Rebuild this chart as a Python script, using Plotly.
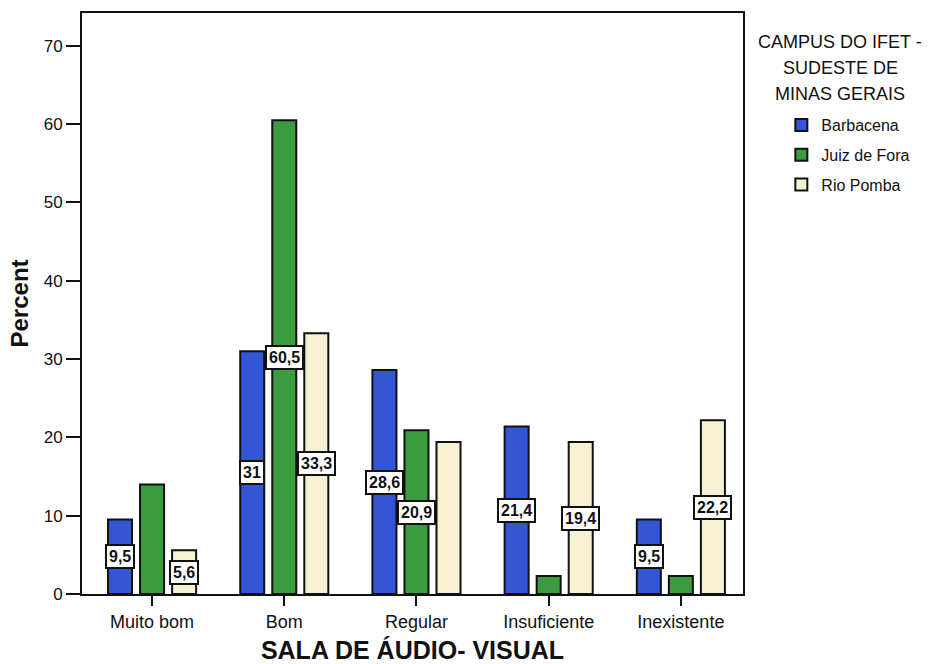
import plotly.graph_objects as go

# Avaliação da sala de áudio-visual por campus (percentual)
categories = ["Muito bom", "Bom", "Regular", "Insuficiente", "Inexistente"]
campuses = ["Barbacena", "Juiz de Fora", "Rio Pomba"]
barbacena = [9.5, 31.0, 28.6, 21.4, 9.5]
juiz_de_fora = [14.0, 60.5, 20.9, 2.3, 2.3]
rio_pomba = [5.6, 33.3, 19.4, 19.4, 22.2]
# rótulos exibidos sobre as barras (None = sem rótulo)
labels_barbacena = ["9,5", "31", "28,6", "21,4", "9,5"]
labels_juiz = [None, "60,5", "20,9", None, None]
labels_rio = ["5,6", "33,3", None, "19,4", "22,2"]
y_ticks = [0, 10, 20, 30, 40, 50, 60, 70]
legend_title_lines = ["CAMPUS DO IFET -", "SUDESTE DE", "MINAS GERAIS"]

series = [barbacena, juiz_de_fora, rio_pomba]
series_labels = [labels_barbacena, labels_juiz, labels_rio]
colors = ["#3355d6", "#3a9b3f", "#f6f1d2"]

FONT = "Liberation Sans, Arial, sans-serif"
BARGAP = 0.273
BARGROUPGAP = 0.25
PLOT_TOP, PLOT_BOTTOM = 13, 594
PLOT_H = PLOT_BOTTOM - PLOT_TOP

fig = go.Figure()
for name, vals, col in zip(campuses, series, colors):
    fig.add_trace(go.Bar(
        name=name, x=categories, y=vals,
        marker=dict(color=col, line=dict(color="#111111", width=2)),
        legendgroup=name,
        hoverinfo="x+y+name",
    ))

# caixas de rótulo no meio de cada barra
slot = (1 - BARGAP) / len(series)
annotations = []
for si, (vals, labs) in enumerate(zip(series, series_labels)):
    for ci, (v, lab) in enumerate(zip(vals, labs)):
        if lab is None:
            continue
        annotations.append(dict(
            x=ci + (si - 1) * slot, y=v / 2, xref="x", yref="y",
            text=f"<b>{lab}</b>", showarrow=False,
            font=dict(family=FONT, size=16, color="#111111"),
            bgcolor="white", bordercolor="#111111", borderwidth=2, borderpad=2,
        ))

# título da legenda, uma linha por anotação
for i, line in enumerate(legend_title_lines):
    py = 42 + 26 * i
    annotations.append(dict(
        x=1.147, y=(PLOT_BOTTOM - py) / PLOT_H, xref="paper", yref="paper",
        xanchor="center", yanchor="middle",
        text=line, showarrow=False,
        font=dict(family=FONT, size=18, color="#111111"),
    ))

fig.update_layout(
    width=932, height=664,
    margin=dict(l=82, r=189, t=PLOT_TOP, b=664 - PLOT_BOTTOM),
    paper_bgcolor="white", plot_bgcolor="white",
    barmode="group", bargap=BARGAP, bargroupgap=BARGROUPGAP,
    font=dict(family=FONT, color="#111111"),
    showlegend=True,
    legend=dict(
        x=1.058, y=(PLOT_BOTTOM - 108) / PLOT_H, xanchor="left", yanchor="top",
        font=dict(family=FONT, size=16, color="#111111"),
        tracegroupgap=6, bgcolor="rgba(0,0,0,0)",
    ),
    annotations=annotations,
)
fig.update_xaxes(
    range=[-0.53, 4.47], showline=True, mirror=True, linecolor="#111111", linewidth=2,
    ticks="outside", ticklen=10, tickwidth=2, tickcolor="#111111",
    tickfont=dict(family=FONT, size=18),
    title=dict(text="<b>SALA DE ÁUDIO- VISUAL</b>", font=dict(family=FONT, size=25), standoff=15),
    showgrid=False, automargin=False,
)
fig.update_yaxes(
    range=[0, 74.2], tickvals=y_ticks, showline=True, mirror=True,
    linecolor="#111111", linewidth=2,
    ticks="outside", ticklen=14, tickwidth=2, tickcolor="#111111",
    tickfont=dict(family=FONT, size=17),
    title=dict(text="<b>Percent</b>", font=dict(family=FONT, size=24), standoff=8),
    showgrid=False, zeroline=False, automargin=False,
)

fig.write_html("out.html")
